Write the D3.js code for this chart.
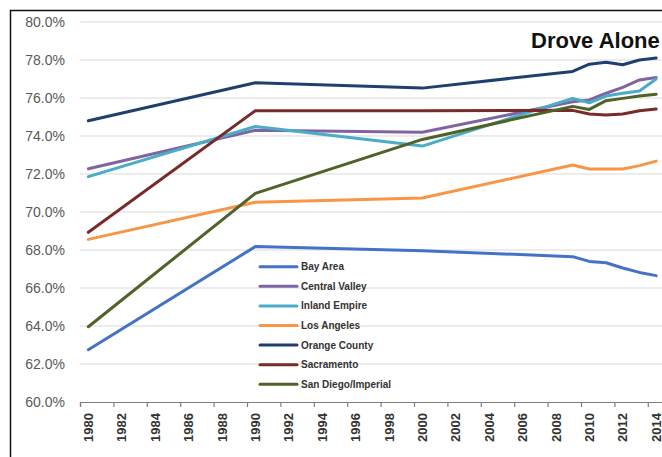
<!DOCTYPE html>
<html>
<head>
<meta charset="utf-8">
<script src="https://cdn.jsdelivr.net/npm/d3@7"></script>
<style>
  body { margin: 0; background: #fff; }
  svg { display: block; font-family: "Liberation Sans", Arial, sans-serif; }
</style>
</head>
<body>
<svg id="chart" width="662" height="457"></svg>
<script>
// years that have data points
const years = [1980, 1990, 2000, 2009, 2010, 2011, 2012, 2013, 2014];

const regions = ['Bay Area', 'Central Valley', 'Inland Empire', 'Los Angeles',
  'Orange County', 'Sacramento', 'San Diego/Imperial'];

const bayArea       = [62.75, 68.18, 67.96, 67.65, 67.40, 67.33, 67.05, 66.82, 66.65];
const centralValley = [72.28, 74.30, 74.20, 75.80, 75.90, 76.25, 76.56, 76.95, 77.08];
const inlandEmpire  = [71.86, 74.50, 73.47, 75.98, 75.75, 76.10, 76.25, 76.37, 77.00];
const losAngeles    = [68.56, 70.51, 70.74, 72.47, 72.26, 72.26, 72.26, 72.44, 72.68];
const orangeCounty  = [74.80, 76.80, 76.52, 77.40, 77.78, 77.88, 77.75, 78.00, 78.10];
const sacramento    = [68.93, 75.33, 75.33, 75.35, 75.16, 75.10, 75.16, 75.33, 75.42];
const sanDiego      = [63.96, 70.98, 73.82, 75.56, 75.40, 75.86, 75.98, 76.10, 76.20];

const seriesValues = [bayArea, centralValley, inlandEmpire, losAngeles, orangeCounty, sacramento, sanDiego];
const colors = ['#4472C4', '#8064A2', '#4BACC6', '#F79646', '#1F3F6E', '#772C2A', '#4F6228'];

const yTicks = [60, 62, 64, 66, 68, 70, 72, 74, 76, 78, 80];
const xLabels = d3.range(1980, 2015, 2);

const svg = d3.select('#chart');

// chart frame (runs off the right / bottom edge like the original crop)
svg.append('rect')
  .attr('x', 10.5).attr('y', 10.5)
  .attr('width', 800).attr('height', 600)
  .attr('fill', 'none')
  .attr('stroke', '#111')
  .attr('stroke-width', 1.5);

// category axis, one slot per year, ticks between slots
const x = d3.scaleLinear().domain([1979.5, 2014.5]).range([80, 80 + 35 * 16.7]);
const y = d3.scaleLinear().domain([60, 80]).range([402, 22]);

// gridlines
svg.append('g')
  .selectAll('line')
  .data(yTicks.filter(d => d > 60))
  .enter().append('line')
    .attr('x1', 80).attr('x2', 700)
    .attr('y1', d => y(d)).attr('y2', d => y(d))
    .attr('stroke', '#d9d9d9')
    .attr('stroke-width', 1);

// y labels
svg.append('g')
  .selectAll('text')
  .data(yTicks)
  .enter().append('text')
    .attr('x', 65)
    .attr('y', d => y(d))
    .attr('dy', '0.36em')
    .attr('text-anchor', 'end')
    .attr('font-size', 14)
    .attr('fill', '#595959')
    .text(d => d.toFixed(1) + '%');

// x axis line + ticks
const xAxis = d3.axisBottom(x)
  .tickValues(d3.range(1979.5, 2015, 2))
  .tickSize(5)
  .tickFormat('');
svg.append('g')
  .attr('transform', 'translate(0,' + y(60) + ')')
  .call(xAxis)
  .call(g => g.selectAll('line, path').attr('stroke', '#7f7f7f').attr('stroke-width', 1.2));

// x labels, rotated
svg.append('g')
  .selectAll('text')
  .data(xLabels)
  .enter().append('text')
    .attr('transform', d => 'translate(' + x(d) + ',413) rotate(-90)')
    .attr('dy', '0.36em')
    .attr('text-anchor', 'end')
    .attr('font-size', 13)
    .attr('font-weight', 'bold')
    .attr('fill', '#333')
    .text(d => d);

// lines
const line = d3.line()
  .x((d, i) => x(years[i]))
  .y(d => y(d));

svg.append('g')
  .selectAll('path')
  .data(seriesValues)
  .enter().append('path')
    .attr('d', d => line(d))
    .attr('fill', 'none')
    .attr('stroke', (d, i) => colors[i])
    .attr('stroke-width', 3)
    .attr('stroke-linejoin', 'round')
    .attr('stroke-linecap', 'round');

// legend
const legend = svg.append('g')
  .selectAll('g')
  .data(regions)
  .enter().append('g')
    .attr('transform', (d, i) => 'translate(260,' + (266.7 + i * 19.6) + ')');

legend.append('line')
  .attr('x1', 0).attr('x2', 37)
  .attr('stroke', (d, i) => colors[i])
  .attr('stroke-width', 3)
  .attr('stroke-linecap', 'round');

legend.append('text')
  .attr('x', 41)
  .attr('dy', '0.35em')
  .attr('font-size', 10)
  .attr('font-weight', 'bold')
  .attr('fill', '#333')
  .text(d => d);

// title
svg.append('text')
  .attr('x', 531)
  .attr('y', 48)
  .attr('font-size', 22)
  .attr('font-weight', 'bold')
  .attr('fill', '#111')
  .text('Drove Alone');
</script>
</body>
</html>
